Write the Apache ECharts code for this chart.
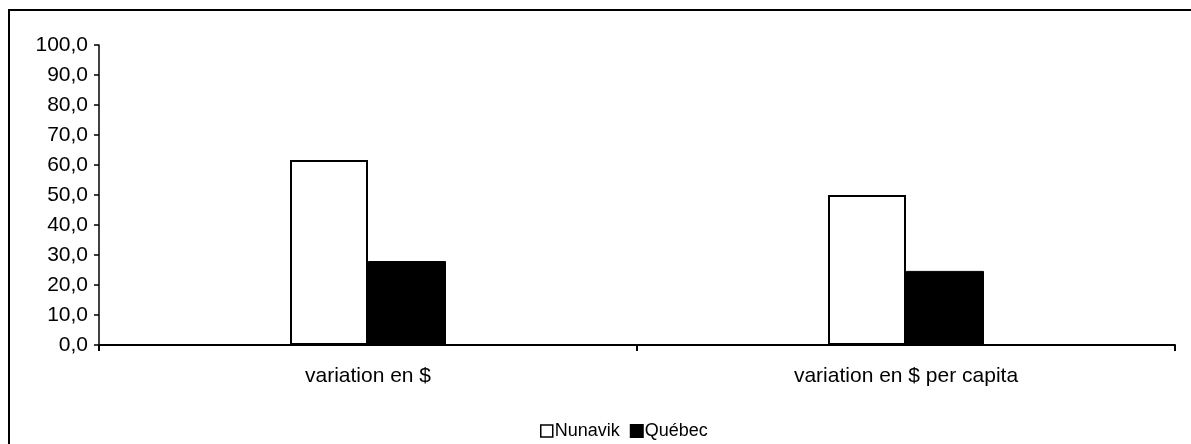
<!DOCTYPE html>
<html>
<head>
<meta charset="utf-8">
<script src="https://cdn.jsdelivr.net/npm/echarts@6/dist/echarts.min.js"></script>
<style>
  html, body { margin: 0; padding: 0; background: #fff; }
  #chart { width: 1191px; height: 444px; }
</style>
</head>
<body>
<div id="chart"></div>
<script>
// données
var categories = ["variation en $", "variation en $ per capita"];
var nunavik = [61.7, 50.0];
var quebec = [28.0, 24.7];
var seriesNames = ["Nunavik", "Québec"];

var chart = echarts.init(document.getElementById("chart"));

var fontFamily = "'Liberation Sans', Arial, sans-serif";

var option = {
  animation: false,
  backgroundColor: "#fff",
  textStyle: { fontFamily: fontFamily },
  // cadre extérieur
  graphic: [
    {
      type: "rect",
      shape: { x: 9, y: 10, width: 1300, height: 600 },
      style: { fill: "none", stroke: "#000", lineWidth: 2 },
      silent: true,
      z: 100,
    },
  ],
  grid: {
    left: 99,
    right: 16,
    top: 45,
    bottom: 99,
    containLabel: false,
  },
  legend: {
    top: 417,
    left: 535,
    itemWidth: 12,
    itemHeight: 12,
    itemGap: 10,
    icon: "rect",
    textStyle: { color: "#000", fontSize: 18, fontFamily: fontFamily, padding: [0, 0, 0, -3] },
    data: [
      { name: seriesNames[0], itemStyle: { color: "#fff", borderColor: "#000", borderWidth: 1.5 } },
      { name: seriesNames[1], itemStyle: { color: "#000" } },
    ],
  },
  xAxis: {
    type: "category",
    data: categories,
    axisLine: { lineStyle: { color: "#000", width: 2 } },
    axisTick: { show: true, length: 6, lineStyle: { color: "#000", width: 2 } },
    axisLabel: { color: "#000", fontSize: 21, margin: 21, fontFamily: fontFamily },
    splitLine: { show: false },
  },
  yAxis: {
    type: "value",
    min: 0,
    max: 100,
    interval: 10,
    axisLine: { show: true, lineStyle: { color: "#000", width: 1.5 } },
    axisTick: { show: true, length: 5, lineStyle: { color: "#000", width: 1.5 } },
    axisLabel: {
      color: "#000",
      fontSize: 21,
      margin: 11,
      fontFamily: fontFamily,
      formatter: function (v) {
        return v.toFixed(1).replace(".", ",");
      },
    },
    splitLine: { show: false },
  },
  series: [
    {
      name: seriesNames[0],
      type: "bar",
      data: nunavik,
      barWidth: 78,
      barGap: "0%",
      itemStyle: { color: "#fff", borderColor: "#000", borderWidth: 2 },
    },
    {
      name: seriesNames[1],
      type: "bar",
      data: quebec,
      barWidth: 78,
      barGap: "0%",
      itemStyle: { color: "#000", borderColor: "#000", borderWidth: 1 },
    },
  ],
};

chart.setOption(option);
window.addEventListener("resize", function () {
  chart.resize();
});
</script>
</body>
</html>
